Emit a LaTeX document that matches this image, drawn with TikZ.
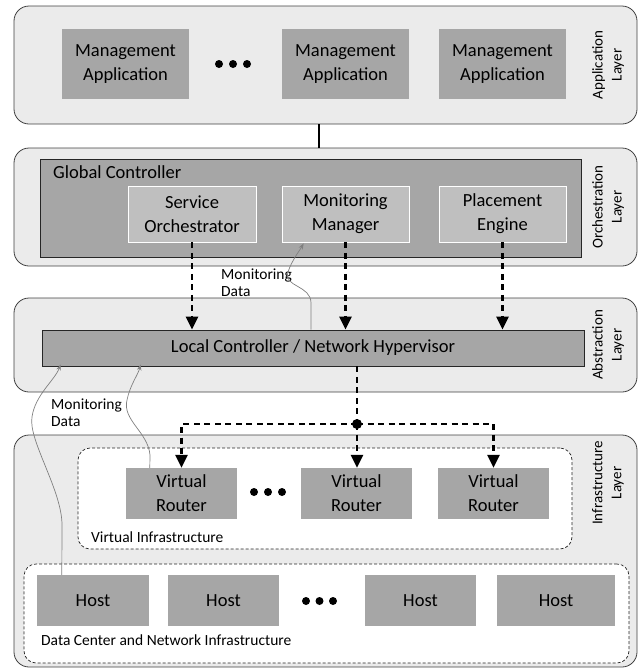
\documentclass[tikz,border=0pt]{standalone}
\usepackage{fontspec}
\setmainfont{Carlito}
\usepackage{tikz}
\usetikzlibrary{arrows.meta}
\usetikzlibrary{positioning}

\definecolor{layerfill}{HTML}{EBEBEB}
\definecolor{boxfill}{HTML}{A6A6A6}
\definecolor{subfill}{HTML}{BFBFBF}

\begin{document}
\begin{tikzpicture}[x=1pt, y=-1pt,
    layer/.style={draw=black!75, fill=layerfill, rounded corners=15pt, line width=0.8pt, minimum width=623pt},
    layerlbl/.style={rotate=90, align=center, font=\fontsize{15}{19}\selectfont},
    box/.style={fill=boxfill, align=center, inner sep=0pt, font=\fontsize{18.5}{24}\selectfont},
    gcbox/.style={box, draw=black!85, line width=0.8pt},
    subbox/.style={box, fill=subfill, draw=white, line width=0.8pt, minimum height=56pt},
    dashbox/.style={draw=black!85, fill=white, dash pattern=on 3pt off 2pt, rounded corners=12pt, line width=0.7pt},
    small/.style={font=\fontsize{15.5}{17}\selectfont, align=left, inner sep=0pt},
    ctrl/.style={line width=2.5pt, dash pattern=on 6pt off 4.5pt, -{Triangle[width=12pt,length=13pt]}},
    mon/.style={draw=black!50, line width=0.7pt, -{Stealth[length=6pt,width=4.5pt]}}]
    \useasboundingbox (0,0) rectangle (641,670);

    % layers
    \node[layer, minimum height=118pt] (applayer) at (325.5,65) {};
    \node[layer, minimum height=118pt] (orchlayer) at (325.5,207) {};
    \node[layer, minimum height=94pt] (abslayer) at (325.5,345) {};
    \node[layer, minimum height=232pt] (infralayer) at (325.5,551) {};
    \node[layerlbl] (applbl) at (608,65) {Application\\Layer};
    \node[layerlbl] (orchlbl) at (608,207) {Orchestration\\Layer};
    \node[layerlbl] (abslbl) at (608,345) {Abstraction\\Layer};
    \node[layerlbl] (infralbl) at (608,483) {Infrastructure\\Layer};

    % application layer
    \foreach \n/\x in {app1/125.5, app2/345.5, app3/502.5}
    {
        \node[box, minimum width=127pt, minimum height=70pt] (\n) at (\x,64) {Management\\Application};
    }
    \foreach \x in {219,233,247}
    {
        \fill (\x,64) circle (4pt);
    }
    \coordinate (link) at (319,0);
    \draw[line width=2.5pt] (applayer.south -| link) -- (orchlayer.north -| link);

    % orchestration layer
    \node[gcbox, minimum width=541pt, minimum height=98pt] (gc) at (310.5,208) {};
    \node[box, fill=none, anchor=west] (gclbl) at (53,172) {Global Controller};
    \node[subbox, minimum width=128pt] (so) at (192,214) {Service\\Orchestrator};
    \node[subbox, minimum width=127pt] (mm) at (345.5,214) {Monitoring\\Manager};
    \node[subbox, minimum width=127pt] (pe) at (502.5,214) {Placement\\Engine};

    % abstraction layer
    \node[gcbox, minimum width=542pt, minimum height=36pt] (lc) at (313,348) {Local Controller / Network Hypervisor};
    \foreach \n in {so,mm,pe}
    {
        \draw[ctrl] (\n.south) -- (\n.south |- lc.north);
    }
    \node[small, anchor=west] (mdata1) at (221,283) {Monitoring\\Data};
    \draw[mon] ([xshift=-2pt]lc.north) -- (311,303) .. controls (311,285) and (283,287) .. (288,272) .. controls (292,260) and (300,250) .. ([xshift=22pt,yshift=-1pt]mm.south west);

    % infrastructure layer
    \node[dashbox, minimum width=494pt, minimum height=101pt] (vi) at (325,498.5) {};
    \node[dashbox, minimum width=605pt, minimum height=99pt] (dc) at (326.5,613.5) {};
    \node[box, minimum width=111pt, minimum height=51pt] (vr1) at (181.5,493.5) {Virtual\\Router};
    \node[box, minimum width=111pt, minimum height=51pt] (vr2) at (356.5,493.5) {Virtual\\Router};
    \node[box, minimum width=111pt, minimum height=51pt] (vr3) at (493.5,493.5) {Virtual\\Router};
    \foreach \x in {254,268,282}
    {
        \fill (\x,492) circle (4pt);
    }
    \node[small, anchor=west] (vilbl) at (91,537) {Virtual Infrastructure};
    \foreach \n/\x/\w in {h1/93/112, h2/223.5/111, h3/420.5/111, h4/556/118}
    {
        \node[box, minimum width=\w pt, minimum height=51pt] (\n) at (\x,600.5) {Host};
    }
    \foreach \x in {306,319.5,333}
    {
        \fill (\x,601) circle (4pt);
    }
    \node[small, anchor=west] (dclbl) at (41,640) {Data Center and Network Infrastructure};

    % control path down to the routers
    \coordinate (junc) at (357,424);
    \draw[line width=2.5pt, dash pattern=on 6pt off 4.5pt] (lc.south -| junc) -- (junc);
    \draw[ctrl] (junc) -| (vr1.north);
    \draw[ctrl] (junc) -- (junc |- vr2.north);
    \draw[ctrl] (junc) -| (vr3.north);
    \fill (junc) circle (5pt);

    % monitoring data up to the local controller
    \node[small, anchor=west] (mdata2) at (51,413) {Monitoring\\Data};
    \draw[mon] ([xshift=25pt]h1.north west) -- (62,525) .. controls (62,490) and (28,440) .. (32,417) .. controls (35,395) and (55,380) .. ([xshift=19pt,yshift=2pt]lc.south west);
    \draw[mon] ([xshift=24pt]vr1.north west) -- (150,455) .. controls (148,432) and (122,420) .. (127,400) .. controls (130,385) and (138,375) .. ([xshift=99pt,yshift=2pt]lc.south west);
\end{tikzpicture}
\end{document}
